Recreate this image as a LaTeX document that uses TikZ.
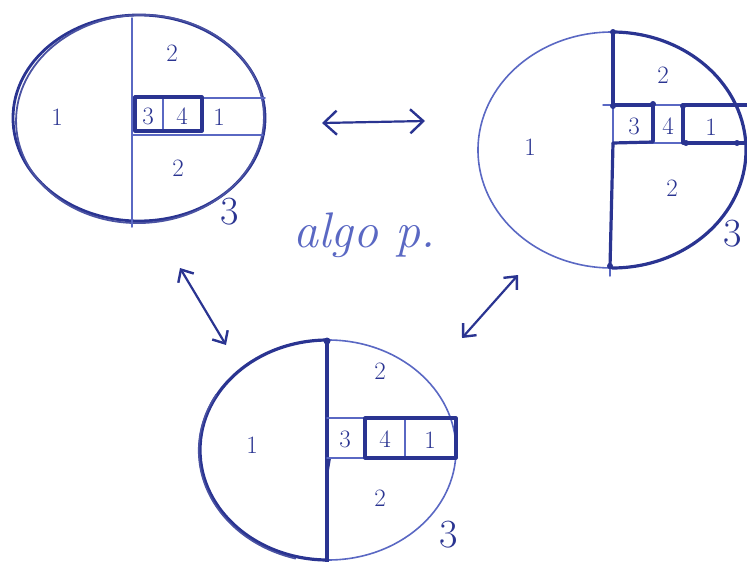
\documentclass[tikz,border=0pt]{standalone}
\usetikzlibrary{arrows.meta,shapes.geometric}
\definecolor{pen}{RGB}{42,52,145}
\definecolor{penlight}{RGB}{90,104,195}
\tikzset{
  thickpen/.style={draw=pen,line width=3.2pt,line cap=round,line join=round},
  thinpen/.style={draw=penlight,line width=1.5pt,line cap=round},
  lbl/.style={text=pen,font=\fontsize{25}{25}\selectfont,inner sep=0pt},
  biglbl/.style={text=pen,font=\fontsize{40}{40}\selectfont,inner sep=0pt},
  dotpen/.style={fill=pen,draw=none},
  arr/.style={draw=pen,line width=2.2pt,line cap=round,{Straight Barb[length=13pt,width=24pt,line width=2.4pt]}-{Straight Barb[length=13pt,width=24pt,line width=2.4pt]}},
  darr/.style={draw=pen,line width=2.2pt,line cap=round,{Straight Barb[length=10pt,width=18pt,line width=2.4pt]}-{Straight Barb[length=10pt,width=18pt,line width=2.4pt]}}
}
\begin{document}
\begin{tikzpicture}[x=1pt,y=-1pt]
\useasboundingbox (0,0) rectangle (747,562);
% ---------- top-left ----------
\node[ellipse,thickpen,line width=2.8pt,minimum width=252pt,minimum height=206pt,inner sep=0pt] (E1) at (139,118) {};
\node[ellipse,draw=pen!85,line width=1.8pt,minimum width=248pt,minimum height=208pt,inner sep=0pt,rotate=3] (E1b) at (140,119) {};
\coordinate (A1t) at (132,18);
\coordinate (A1b) at (132,227);
\draw[thinpen] (A1t) -- (A1b);
\coordinate (A1u) at (132,98);
\coordinate (A1d) at (132,135);
\draw[thinpen] (A1u) -- (265,98);
\draw[thinpen] (A1d) -- (263,135);
\draw[thinpen] (163,97) -- (163,131);
\draw[thickpen] (135,97) rectangle (202,131);
\node[lbl] (t1a) at (57,117) {1};
\node[lbl] (t1b) at (172,53) {2};
\node[lbl] (t1c) at (178,168) {2};
\node[lbl] (t1d) at (148,116) {3};
\node[lbl] (t1e) at (182,116) {4};
\node[lbl] (t1f) at (219,117) {1};
\node[biglbl] (t1g) at (230,212) {3};
% ---------- top-right ----------
\coordinate (C2) at (612,150);
\draw[thinpen,line width=1.6pt] (C2) ++(90:134pt and 118pt) arc[start angle=90,end angle=270,x radius=134pt,y radius=118pt];
\draw[thickpen] (C2) ++(90:134pt and 118pt) arc[start angle=90,end angle=-90,x radius=134pt,y radius=118pt];
\draw[thinpen] (610,266) -- (610,276);
\draw[thickpen] (613,32) -- (613,105);
\draw[thickpen] (613,143) -- (610,267);
\draw[thinpen] (613,105) -- (613,143);
\draw[thinpen] (603,105) -- (747,105);
\draw[thinpen] (613,143) -- (747,143);
\draw[thickpen] (613,105) -- (653,105) -- (653,141);
\draw[thickpen] (613,143) -- (653,142);
\draw[thickpen] (747,105) -- (683,105) -- (683,143) -- (747,143);
\foreach \p in {(613,32),(613,106),(653,104),(683,106),(686,143),(737,143),(610,266)}
  \fill[dotpen] \p circle (3pt);
\node[lbl] (t2a) at (530,147) {1};
\node[lbl] (t2b) at (663,75) {2};
\node[lbl] (t2c) at (672,188) {2};
\node[lbl] (t2d) at (634,126) {3};
\node[lbl] (t2e) at (668,126) {4};
\node[lbl] (t2f) at (711,127) {1};
\node[biglbl] (t2g) at (733,234) {3};
% ---------- bottom ----------
\coordinate (C3) at (328,450);
\draw[thinpen,line width=1.6pt] (C3) ++(90:128pt and 110pt) arc[start angle=90,end angle=-90,x radius=128pt,y radius=110pt];
\draw[thickpen] (C3) ++(90:128pt and 110pt) arc[start angle=90,end angle=270,x radius=128pt,y radius=110pt];
\draw[draw=pen!85,line width=1.6pt] (C3) ++(150:129pt and 111pt) arc[start angle=150,end angle=255,x radius=131pt,y radius=112pt];
\draw[thickpen] (327,341) -- (327,562);
\fill[dotpen] (327,341) circle (3.5pt);
\fill[dotpen] (325,458) -- (331,458) -- (327,482) -- cycle;
\draw[thinpen] (327,418) -- (365,418);
\draw[thinpen] (327,458) -- (365,458);
\draw[thinpen] (405,418) -- (405,458);
\draw[thickpen] (365,418) rectangle (456,458);
\node[lbl] (t3a) at (252,445) {1};
\node[lbl] (t3b) at (380,371) {2};
\node[lbl] (t3c) at (380,498) {2};
\node[lbl] (t3d) at (345,439) {3};
\node[lbl] (t3e) at (385,439) {4};
\node[lbl] (t3f) at (430,440) {1};
\node[biglbl] (t3g) at (449,535) {3};
% ---------- arrows ----------
\coordinate (h1) at (322,123);
\coordinate (h2) at (425,121);
\draw[arr] (h1) -- (h2);
\coordinate (l1) at (180,268);
\coordinate (l2) at (226,345);
\draw[darr] (l1) -- (l2);
\coordinate (r1) at (518,275);
\coordinate (r2) at (462,338);
\draw[darr] (r1) -- (r2);
% ---------- text ----------
\node[text=penlight,font=\fontsize{50}{50}\selectfont\itshape,anchor=base west,inner sep=0pt] (algo) at (293,247) {algo p.};
\end{tikzpicture}
\end{document}
